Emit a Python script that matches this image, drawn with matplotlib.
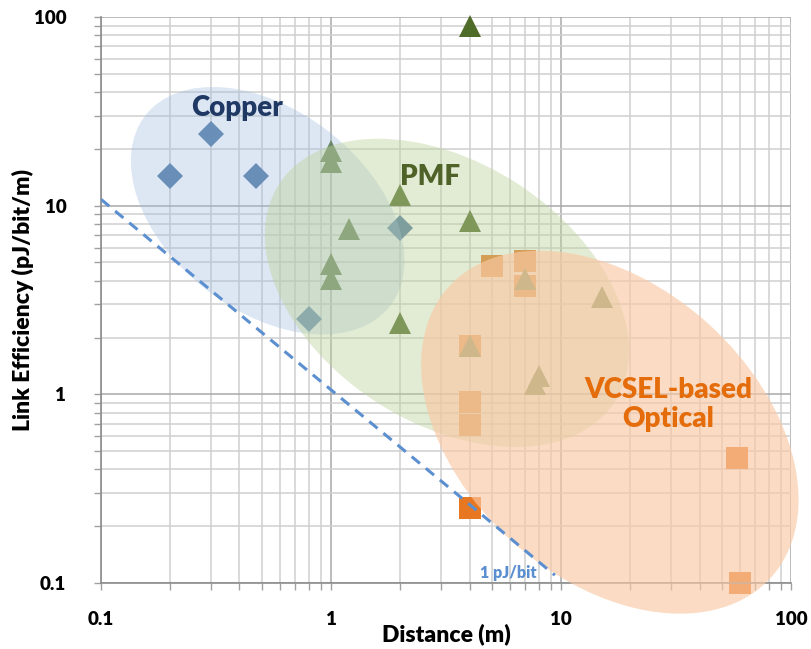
import matplotlib
matplotlib.use("Agg")
import numpy as np
import matplotlib.pyplot as plt
from matplotlib.patches import Ellipse
from matplotlib.transforms import ScaledTranslation
from matplotlib.ticker import FixedLocator, NullFormatter, LogLocator

plt.rcParams['font.family'] = ['Lato', 'DejaVu Sans']
plt.rcParams['font.weight'] = 'heavy'
plt.rcParams['axes.labelweight'] = 'heavy'

W = "heavy"

# data
copper_x = [0.2, 0.3, 0.47, 0.8, 2.0]
copper_y = [14.3, 24.0, 14.3, 2.5, 7.6]

pmf_x = [1.0, 1.0, 1.2, 1.0, 1.0, 2.0, 2.0, 4.0, 4.0, 7.0, 4.0, 8.0, 7.7, 15.0]
pmf_y = [19.5, 17.0, 7.5, 4.9, 4.1, 11.4, 2.4, 90.0, 8.3, 4.1, 1.8, 1.25, 1.13, 3.3]

optical_x = [5.0, 7.0, 7.0, 4.0, 4.0, 4.0, 4.0, 58.0, 60.0]
optical_y = [4.8, 5.1, 3.75, 1.8, 0.91, 0.69, 0.25, 0.46, 0.1]

# 1 pJ/bit reference line
line_x = [0.1, 9.4]
line_y = [10.8, 0.11]

x_ticks = [0.1, 1, 10, 100]
x_labels = ["0.1", "1", "10", "100"]
y_ticks = [0.1, 1, 10, 100]
y_labels = ["0.1", "1", "10", "100"]

# region ellipses: centre (data), width/height (inches), angle, colour, alpha
regions = [
    ((0.53, 9.4), 3.1, 2.0, -38, "#9EBDE2", 0.35),
    ((3.19, 3.45), 4.0, 2.6, -33, "#BDD29B", 0.44),
    ((16.3, 0.63), 4.34, 2.93, -42, "#F9C9A4", 0.65),
]

fig = plt.figure(figsize=(8.12, 6.49), dpi=100)
ax = fig.add_axes([0.1244, 0.1017, 0.8498, 0.8721])
ax.set_xscale("log")
ax.set_yscale("log")
ax.set_xlim(0.1, 100)
ax.set_ylim(0.1, 100)

ax.set_axisbelow(True)
ax.grid(True, which="major", color="#A8A8A8", linewidth=1.1)
ax.grid(True, which="minor", color="#D0D0D0", linewidth=1.1)

ax.plot(optical_x, optical_y, "s", color="#E87722", markersize=16.5,
        markeredgewidth=0, zorder=2, clip_on=False)
ax.plot(copper_x, copper_y, "D", color="#4E76A1", markersize=13,
        markeredgewidth=0, zorder=2, clip_on=False)
ax.plot(pmf_x, pmf_y, "^", color="#4F6B28", markersize=16.5,
        markeredgewidth=0, zorder=2, clip_on=False)

for (cx, cy), w, h, ang, col, alpha in regions:
    tr = fig.dpi_scale_trans + ScaledTranslation(cx, cy, ax.transData)
    ax.add_patch(Ellipse((0, 0), w, h, angle=ang, transform=tr,
                         facecolor=col, edgecolor="none", alpha=alpha,
                         zorder=3, clip_on=False))

ax.plot(line_x, line_y, "--", color="#5B8FD0", linewidth=2.2,
        dashes=(3.5, 2.5), zorder=4)
ax.text(5.9, 0.113, "1 pJ/bit", color="#5B8FD0", fontsize=11.5,
        fontweight=W, ha="center", va="center", zorder=5)

ax.text(0.39, 33, "Copper", color="#1F3864", fontsize=20,
        fontweight=W, ha="center", va="center", zorder=5)
ax.text(2.69, 14.2, "PMF", color="#4F6228", fontsize=20,
        fontweight=W, ha="center", va="center", zorder=5)
ax.text(29.2, 0.885, "VCSEL-based\nOptical", color="#E46C0A", fontsize=20,
        fontweight=W, ha="center", va="center", linespacing=1.15,
        zorder=5)

ax.xaxis.set_major_locator(FixedLocator(x_ticks))
ax.yaxis.set_major_locator(FixedLocator(y_ticks))
ax.set_xticklabels(x_labels, fontweight=W)
ax.set_yticklabels(y_labels, fontweight=W)
ax.xaxis.set_minor_locator(LogLocator(base=10, subs=np.arange(2, 10)))
ax.yaxis.set_minor_locator(LogLocator(base=10, subs=np.arange(2, 10)))
ax.xaxis.set_minor_formatter(NullFormatter())
ax.yaxis.set_minor_formatter(NullFormatter())

ax.tick_params(which="both", direction="out", length=5, color="#A0A0A0",
               width=1)
ax.tick_params(axis="x", which="major", labelsize=13.5, pad=15.5)
ax.tick_params(axis="y", which="major", labelsize=13.5, pad=20)

for side in ["top", "right"]:
    ax.spines[side].set_visible(False)
for side in ["left", "bottom"]:
    ax.spines[side].set_color("#8C8C8C")
    ax.spines[side].set_linewidth(1.2)

ax.set_xlabel("Distance (m)", fontsize=16.5, fontweight=W, labelpad=-4)
ax.set_ylabel("Link Efficiency (pJ/bit/m)", fontsize=16.5, fontweight=W,
              labelpad=0)

fig.savefig("out.png", dpi=100)
